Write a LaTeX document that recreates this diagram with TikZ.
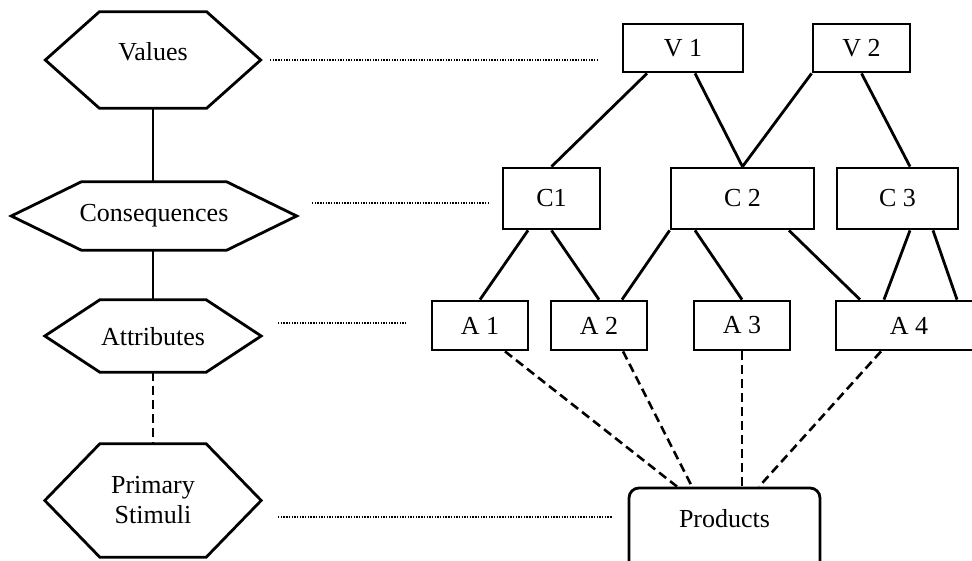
\documentclass[tikz,border=0pt]{standalone}
\usepackage{fontspec}
\setmainfont{Liberation Serif}
\newcommand{\hexout}[2]{%
  \draw[hexline] (#1.west) -- ([xshift=#2]#1.north west) -- ([xshift=-#2]#1.north east)
    -- (#1.east) -- ([xshift=-#2]#1.south east) -- ([xshift=#2]#1.south west) -- cycle;}
\begin{document}
\begin{tikzpicture}[x=1pt,y=-1pt,
  every node/.style={font=\fontsize{26}{30}\selectfont},
  hexnode/.style={draw=none, inner sep=0pt, rectangle},
  hexline/.style={draw, line width=2.8pt, line join=miter},
  box/.style={draw, line width=2.8pt, inner sep=0pt, rectangle},
  vbox/.style={box, minimum height=48pt},
  cbox/.style={box, minimum height=61pt},
  abox/.style={box, minimum height=49pt},
  conn/.style={line width=2.8pt},
  dash conn/.style={line width=2.6pt, dash pattern=on 9pt off 5pt},
  dotline/.style={line width=1.7pt, dash pattern=on 1.4pt off 1.3pt}]
\useasboundingbox (0,0) rectangle (972,561);
\clip (0,0) rectangle (972,561);

% left hierarchy (hexagons)
\node[hexnode, minimum width=215pt, text height=49pt, text depth=47pt, anchor=base] (vals) at (153,61) {Values};
\node[hexnode, minimum width=285pt, text height=40pt, text depth=28pt, anchor=base] (cons) at (154,222) {Consequences};
\node[hexnode, minimum width=216pt, text height=45pt, text depth=27pt, anchor=base] (attr) at (153,345) {Attributes};
\node[hexnode, minimum width=216pt, minimum height=113pt, align=center] (prim) at (153,500.5) {Primary\\Stimuli};
\hexout{vals}{54pt}
\hexout{cons}{70pt}
\hexout{attr}{55pt}
\hexout{prim}{55pt}
\draw[conn] (vals.south) -- (vals.south |- cons.north);
\draw[conn] (attr.north) -- (attr.north |- cons.south);
\draw[dash conn] (attr.south) -- (prim.north);

% dotted guide lines
\coordinate (dv1) at (270,60);  \coordinate (dv2) at (597,60);
\coordinate (dc1) at (312,203); \coordinate (dc2) at (488,203);
\coordinate (da1) at (278,323); \coordinate (da2) at (406,323);
\coordinate (dp1) at (278,517); \coordinate (dp2) at (612,517);
\draw[dotline] (dv1) -- (dv2);
\draw[dotline] (dc1) -- (dc2);
\draw[dotline] (da1) -- (da2);
\draw[dotline] (dp1) -- (dp2);

% right hierarchy
\node[vbox, minimum width=120pt] (v1) at (683,48) {V 1};
\node[vbox, minimum width=97pt] (v2) at (861.5,48) {V 2};
\node[cbox, minimum width=97pt] (c1) at (551.5,198.5) {C1};
\node[cbox, minimum width=143pt] (c2) at (742.5,198.5) {C 2};
\node[cbox, minimum width=121pt] (c3) at (897.5,198.5) {C 3};
\node[abox, minimum width=96pt] (a1) at (480,325.5) {A 1};
\node[abox, minimum width=96pt] (a2) at (599,325.5) {A 2};
\node[abox, minimum width=96pt] (a3) at (742,325.5) {A 3};
\node[abox, minimum width=146pt] (a4) at (909,325.5) {A 4};
\node[box, rounded corners=10pt, minimum width=191pt, text height=39pt, text depth=53pt, anchor=base] (prod) at (724.5,527) {Products};

\draw[conn] ([xshift=-36pt]v1.south) -- (c1.north);
\draw[conn] ([xshift=12pt]v1.south) -- (c2.north);
\draw[conn] (v2.south west) -- (c2.north);
\draw[conn] (v2.south) -- ([xshift=12.5pt]c3.north);
\draw[conn] ([xshift=-23.5pt]c1.south) -- (a1.north);
\draw[conn] (c1.south) -- (a2.north);
\draw[conn] (c2.south west) -- ([xshift=23pt]a2.north);
\draw[conn] ([xshift=-47.5pt]c2.south) -- (a3.north);
\draw[conn] ([xshift=46.5pt]c2.south) -- ([xshift=-49pt]a4.north);
\draw[conn] ([xshift=12.5pt]c3.south) -- ([xshift=-25pt]a4.north);
\draw[conn] ([xshift=35.5pt]c3.south) -- ([xshift=48pt]a4.north);

\draw[dash conn] ([xshift=25pt]a1.south) -- ([xshift=-47.5pt]prod.north);
\draw[dash conn] ([xshift=24pt]a2.south) -- ([xshift=-32.5pt]prod.north);
\draw[dash conn] (a3.south) -- ([xshift=17.5pt]prod.north);
\draw[dash conn] ([xshift=-28pt]a4.south) -- ([xshift=34.5pt]prod.north);
\end{tikzpicture}
\end{document}
